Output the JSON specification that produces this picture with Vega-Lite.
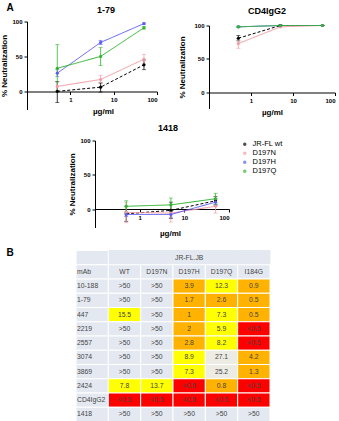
{
  "$schema": "https://vega.github.io/schema/vega-lite/v6.json",
  "padding": {"left": 0, "top": 2.5, "right": 0, "bottom": 0},
  "background": "white",
  "title": {"text": "A", "anchor": "start", "frame": "group", "fontSize": 10, "dx": 3.5, "offset": 0, "dy": 7},
  "datasets": {
    "curves": [
      {"panel": "1-79", "series": "JR-FL wt", "conc": 0.5, "mean": 0, "lo": -16, "hi": 14},
      {"panel": "1-79", "series": "JR-FL wt", "conc": 5, "mean": 6, "lo": -1, "hi": 12},
      {"panel": "1-79", "series": "JR-FL wt", "conc": 50, "mean": 38, "lo": 31, "hi": 45},
      {"panel": "1-79", "series": "D197N", "conc": 0.5, "mean": 7, "lo": 1, "hi": 13},
      {"panel": "1-79", "series": "D197N", "conc": 5, "mean": 17, "lo": 12, "hi": 23},
      {"panel": "1-79", "series": "D197N", "conc": 50, "mean": 46, "lo": 39, "hi": 53},
      {"panel": "1-79", "series": "D197H", "conc": 0.5, "mean": 26, "lo": 21, "hi": 31},
      {"panel": "1-79", "series": "D197H", "conc": 5, "mean": 70, "lo": 67, "hi": 73},
      {"panel": "1-79", "series": "D197H", "conc": 50, "mean": 97, "lo": 96, "hi": 98},
      {"panel": "1-79", "series": "D197Q", "conc": 0.5, "mean": 33, "lo": -1, "hi": 67},
      {"panel": "1-79", "series": "D197Q", "conc": 5, "mean": 50, "lo": 37, "hi": 63},
      {"panel": "1-79", "series": "D197Q", "conc": 50, "mean": 91, "lo": 89, "hi": 93},
      {"panel": "CD4IgG2", "series": "JR-FL wt", "conc": 0.5, "mean": 81, "lo": 77, "hi": 85},
      {"panel": "CD4IgG2", "series": "JR-FL wt", "conc": 5, "mean": 100, "lo": 99, "hi": 101},
      {"panel": "CD4IgG2", "series": "JR-FL wt", "conc": 50, "mean": 100, "lo": 100, "hi": 100},
      {"panel": "CD4IgG2", "series": "D197N", "conc": 0.5, "mean": 73, "lo": 66, "hi": 80},
      {"panel": "CD4IgG2", "series": "D197N", "conc": 5, "mean": 98, "lo": 97, "hi": 99},
      {"panel": "CD4IgG2", "series": "D197N", "conc": 50, "mean": 100, "lo": 100, "hi": 100},
      {"panel": "CD4IgG2", "series": "D197H", "conc": 0.5, "mean": 98, "lo": 97, "hi": 99},
      {"panel": "CD4IgG2", "series": "D197H", "conc": 5, "mean": 100, "lo": 100, "hi": 100},
      {"panel": "CD4IgG2", "series": "D197H", "conc": 50, "mean": 100, "lo": 100, "hi": 100},
      {"panel": "CD4IgG2", "series": "D197Q", "conc": 0.5, "mean": 98, "lo": 97, "hi": 99},
      {"panel": "CD4IgG2", "series": "D197Q", "conc": 5, "mean": 100, "lo": 100, "hi": 100},
      {"panel": "CD4IgG2", "series": "D197Q", "conc": 50, "mean": 100, "lo": 100, "hi": 100},
      {"panel": "1418", "series": "JR-FL wt", "conc": 0.5, "mean": -7, "lo": -18, "hi": 4},
      {"panel": "1418", "series": "JR-FL wt", "conc": 5, "mean": -2, "lo": -14, "hi": 10},
      {"panel": "1418", "series": "JR-FL wt", "conc": 50, "mean": 12, "lo": 6, "hi": 18},
      {"panel": "1418", "series": "D197N", "conc": 0.5, "mean": -5, "lo": -20, "hi": 10},
      {"panel": "1418", "series": "D197N", "conc": 5, "mean": -6, "lo": -19, "hi": 7},
      {"panel": "1418", "series": "D197N", "conc": 50, "mean": 4, "lo": -6, "hi": 14},
      {"panel": "1418", "series": "D197H", "conc": 0.5, "mean": -8, "lo": -11, "hi": -5},
      {"panel": "1418", "series": "D197H", "conc": 5, "mean": -8, "lo": -12, "hi": -4},
      {"panel": "1418", "series": "D197H", "conc": 50, "mean": 10, "lo": 5, "hi": 15},
      {"panel": "1418", "series": "D197Q", "conc": 0.5, "mean": 4, "lo": -4, "hi": 12},
      {"panel": "1418", "series": "D197Q", "conc": 5, "mean": 6, "lo": -4, "hi": 16},
      {"panel": "1418", "series": "D197Q", "conc": 50, "mean": 15, "lo": 7, "hi": 23}
    ],
    "table": [
      {"row": "h1", "col": "mAb", "text": "", "level": "header"},
      {"row": "h1", "col": "WT", "text": "", "level": "span"},
      {"row": "h1", "col": "D197N", "text": "", "level": "span"},
      {"row": "h1", "col": "D197H", "text": "JR-FL.JB", "level": "span"},
      {"row": "h1", "col": "D197Q", "text": "", "level": "span"},
      {"row": "h1", "col": "I184G", "text": "", "level": "span"},
      {"row": "h2", "col": "mAb", "text": "mAb", "level": "header"},
      {"row": "h2", "col": "WT", "text": "WT", "level": "header"},
      {"row": "h2", "col": "D197N", "text": "D197N", "level": "header"},
      {"row": "h2", "col": "D197H", "text": "D197H", "level": "header"},
      {"row": "h2", "col": "D197Q", "text": "D197Q", "level": "header"},
      {"row": "h2", "col": "I184G", "text": "I184G", "level": "header"},
      {"row": "10-188", "col": "mAb", "text": "10-188", "level": "header"},
      {"row": "10-188", "col": "WT", "text": ">50", "level": ">50"},
      {"row": "10-188", "col": "D197N", "text": ">50", "level": ">50"},
      {"row": "10-188", "col": "D197H", "text": "3.9", "level": "0.5-5"},
      {"row": "10-188", "col": "D197Q", "text": "12.3", "level": "5-20"},
      {"row": "10-188", "col": "I184G", "text": "0.9", "level": "0.5-5"},
      {"row": "1-79", "col": "mAb", "text": "1-79", "level": "header"},
      {"row": "1-79", "col": "WT", "text": ">50", "level": ">50"},
      {"row": "1-79", "col": "D197N", "text": ">50", "level": ">50"},
      {"row": "1-79", "col": "D197H", "text": "1.7", "level": "0.5-5"},
      {"row": "1-79", "col": "D197Q", "text": "2.6", "level": "0.5-5"},
      {"row": "1-79", "col": "I184G", "text": "0.5", "level": "0.5-5"},
      {"row": "447", "col": "mAb", "text": "447", "level": "header"},
      {"row": "447", "col": "WT", "text": "15.5", "level": "5-20"},
      {"row": "447", "col": "D197N", "text": ">50", "level": ">50"},
      {"row": "447", "col": "D197H", "text": "1", "level": "0.5-5"},
      {"row": "447", "col": "D197Q", "text": "7.3", "level": "5-20"},
      {"row": "447", "col": "I184G", "text": "0.5", "level": "0.5-5"},
      {"row": "2219", "col": "mAb", "text": "2219", "level": "header"},
      {"row": "2219", "col": "WT", "text": ">50", "level": ">50"},
      {"row": "2219", "col": "D197N", "text": ">50", "level": ">50"},
      {"row": "2219", "col": "D197H", "text": "2", "level": "0.5-5"},
      {"row": "2219", "col": "D197Q", "text": "5.9", "level": "5-20"},
      {"row": "2219", "col": "I184G", "text": "<0.5", "level": "<0.5"},
      {"row": "2557", "col": "mAb", "text": "2557", "level": "header"},
      {"row": "2557", "col": "WT", "text": ">50", "level": ">50"},
      {"row": "2557", "col": "D197N", "text": ">50", "level": ">50"},
      {"row": "2557", "col": "D197H", "text": "2.8", "level": "0.5-5"},
      {"row": "2557", "col": "D197Q", "text": "8.2", "level": "5-20"},
      {"row": "2557", "col": "I184G", "text": "<0.5", "level": "<0.5"},
      {"row": "3074", "col": "mAb", "text": "3074", "level": "header"},
      {"row": "3074", "col": "WT", "text": ">50", "level": ">50"},
      {"row": "3074", "col": "D197N", "text": ">50", "level": ">50"},
      {"row": "3074", "col": "D197H", "text": "8.9", "level": "5-20"},
      {"row": "3074", "col": "D197Q", "text": "27.1", "level": "20-50"},
      {"row": "3074", "col": "I184G", "text": "4.2", "level": "0.5-5"},
      {"row": "3869", "col": "mAb", "text": "3869", "level": "header"},
      {"row": "3869", "col": "WT", "text": ">50", "level": ">50"},
      {"row": "3869", "col": "D197N", "text": ">50", "level": ">50"},
      {"row": "3869", "col": "D197H", "text": "7.3", "level": "5-20"},
      {"row": "3869", "col": "D197Q", "text": "25.2", "level": "20-50"},
      {"row": "3869", "col": "I184G", "text": "1.3", "level": "0.5-5"},
      {"row": "2424", "col": "mAb", "text": "2424", "level": "header"},
      {"row": "2424", "col": "WT", "text": "7.8", "level": "5-20"},
      {"row": "2424", "col": "D197N", "text": "13.7", "level": "5-20"},
      {"row": "2424", "col": "D197H", "text": "<0.5", "level": "<0.5"},
      {"row": "2424", "col": "D197Q", "text": "0.8", "level": "0.5-5"},
      {"row": "2424", "col": "I184G", "text": "<0.5", "level": "<0.5"},
      {"row": "CD4IgG2", "col": "mAb", "text": "CD4IgG2", "level": "header"},
      {"row": "CD4IgG2", "col": "WT", "text": "<0.5", "level": "<0.5"},
      {"row": "CD4IgG2", "col": "D197N", "text": "<0.5", "level": "<0.5"},
      {"row": "CD4IgG2", "col": "D197H", "text": "<0.5", "level": "<0.5"},
      {"row": "CD4IgG2", "col": "D197Q", "text": "<0.5", "level": "<0.5"},
      {"row": "CD4IgG2", "col": "I184G", "text": "<0.5", "level": "<0.5"},
      {"row": "1418", "col": "mAb", "text": "1418", "level": "header"},
      {"row": "1418", "col": "WT", "text": ">50", "level": ">50"},
      {"row": "1418", "col": "D197N", "text": ">50", "level": ">50"},
      {"row": "1418", "col": "D197H", "text": ">50", "level": ">50"},
      {"row": "1418", "col": "D197Q", "text": ">50", "level": ">50"},
      {"row": "1418", "col": "I184G", "text": ">50", "level": ">50"}
    ]
  },
  "columns": 2,
  "bounds": "flush",
  "spacing": {"row": 23, "column": 0},
  "resolve": {"scale": {"color": "independent", "strokeDash": "independent"}, "legend": {"color": "independent"}},
  "concat": [
    {
      "width": 206, "height": 96,
      "data": {"name": "curves"},
      "transform": [{"filter": "datum.panel == '1-79'"}],
      "title": {"text": "1-79", "offset": 4},
      "encoding": {
        "x": {"field": "conc", "type": "quantitative", "scale": {"type": "log", "domain": [0.1, 100], "range": [24, 154], "nice": false},
              "axis": {"values": [1, 10, 100], "format": "d", "offset": -26, "title": "µg/ml", "titleX": 100, "titlePadding": 5}},
        "color": {"field": "series", "type": "nominal", "scale": {"domain": ["JR-FL wt", "D197N", "D197H", "D197Q"], "range": ["#000000", "#f29aa3", "#5d5df2", "#2fb52f"]}, "legend": null}
      },
      "layer": [
        {"mark": {"type": "errorbar", "ticks": true, "thickness": 0.8},
         "encoding": {"y": {"field": "lo", "type": "quantitative", "title": "% Neutralization", "scale": {"domain": [-26, 100], "range": [88, 0], "nice": false, "zero": false}, "axis": {"values": [0, 50, 100], "offset": -24}},
                      "y2": {"field": "hi"}}},
        {"mark": {"type": "line", "strokeWidth": 1},
         "encoding": {"y": {"field": "mean", "type": "quantitative", "title": "% Neutralization"},
                      "strokeDash": {"field": "series", "type": "nominal", "scale": {"domain": ["JR-FL wt", "D197N", "D197H", "D197Q"], "range": [[3, 2], [1, 0], [1, 0], [1, 0]]}, "legend": null}}},
        {"mark": {"type": "point", "filled": true, "size": 10, "opacity": 1},
         "encoding": {"y": {"field": "mean", "type": "quantitative", "title": "% Neutralization"}}}
      ]
    },
    {
      "width": 126, "height": 96,
      "data": {"name": "curves"},
      "transform": [{"filter": "datum.panel == 'CD4IgG2'"}],
      "title": {"text": "CD4IgG2", "dx": -5, "offset": 6},
      "encoding": {
        "x": {"field": "conc", "type": "quantitative", "scale": {"type": "log", "domain": [0.1, 100], "nice": false},
              "axis": {"values": [1, 10, 100], "format": "d", "offset": -25, "title": "µg/ml", "titlePadding": 5}},
        "color": {"field": "series", "type": "nominal", "scale": {"domain": ["JR-FL wt", "D197N", "D197H", "D197Q"], "range": ["#000000", "#f29aa3", "#5d5df2", "#2fb52f"]}, "legend": null}
      },
      "layer": [
        {"mark": {"type": "errorbar", "ticks": true, "thickness": 0.8},
         "encoding": {"y": {"field": "lo", "type": "quantitative", "title": "% Neutralization", "scale": {"domain": [-24, 100], "range": [87, 4], "nice": false, "zero": false}, "axis": {"values": [0, 50, 100], "titlePadding": 7}},
                      "y2": {"field": "hi"}}},
        {"mark": {"type": "line", "strokeWidth": 1},
         "encoding": {"y": {"field": "mean", "type": "quantitative", "title": "% Neutralization"},
                      "strokeDash": {"field": "series", "type": "nominal", "scale": {"domain": ["JR-FL wt", "D197N", "D197H", "D197Q"], "range": [[3, 2], [1, 0], [1, 0], [1, 0]]}, "legend": null}}},
        {"mark": {"type": "point", "filled": true, "size": 10, "opacity": 1},
         "encoding": {"y": {"field": "mean", "type": "quantitative", "title": "% Neutralization"}}}
      ]
    },
    {
      "width": 206, "height": 87,
      "data": {"name": "curves"},
      "transform": [{"filter": "datum.panel == '1418'"}],
      "title": {"text": "1418", "dx": 62, "offset": 5},
      "encoding": {
        "x": {"field": "conc", "type": "quantitative", "scale": {"type": "log", "domain": [0.1, 100], "range": [92, 226], "nice": false},
              "axis": {"values": [1, 10, 100], "format": "d", "offset": -18.5, "title": "µg/ml", "titleX": 167, "titlePadding": 9}},
        "color": {"field": "series", "type": "nominal", "scale": {"domain": ["JR-FL wt", "D197N", "D197H", "D197Q"], "range": ["#000000", "#f29aa3", "#5d5df2", "#2fb52f"]},
                  "legend": {"orient": "right", "offset": 23, "padding": 0, "title": null, "labelFontSize": 7.5, "labelFont": "Liberation Sans", "labelColor": "#000", "symbolSize": 12, "symbolType": "circle", "symbolDash": [], "symbolStrokeWidth": 0, "rowPadding": 0, "labelOffset": 4}}
      },
      "layer": [
        {"mark": {"type": "errorbar", "ticks": true, "thickness": 0.8},
         "encoding": {"y": {"field": "lo", "type": "quantitative", "title": "% Neutralization", "scale": {"domain": [-27, 100], "nice": false, "zero": false}, "axis": {"values": [0, 50, 100], "offset": -92}},
                      "y2": {"field": "hi"}}},
        {"mark": {"type": "line", "strokeWidth": 1},
         "encoding": {"y": {"field": "mean", "type": "quantitative", "title": "% Neutralization"},
                      "strokeDash": {"field": "series", "type": "nominal", "scale": {"domain": ["JR-FL wt", "D197N", "D197H", "D197Q"], "range": [[3, 2], [1, 0], [1, 0], [1, 0]]}, "legend": null}}},
        {"mark": {"type": "point", "filled": true, "size": 10, "opacity": 1},
         "encoding": {"y": {"field": "mean", "type": "quantitative", "title": "% Neutralization"}}}
      ]
    },
    {"width": 1, "height": 1, "data": {"values": []}, "mark": "point"},
    {
      "width": 206, "height": 171,
      "data": {"name": "table"},
      "title": {"text": "B", "anchor": "start", "frame": "group", "fontSize": 10, "dx": 3.5, "offset": 0, "dy": 8},
      "encoding": {
        "x": {"field": "col", "type": "ordinal", "scale": {"domain": ["mAb", "WT", "D197N", "D197H", "D197Q", "I184G"], "range": [73, 267], "paddingInner": 0, "paddingOuter": 0}, "axis": null},
        "y": {"field": "row", "type": "ordinal", "scale": {"domain": ["h1", "h2", "10-188", "1-79", "447", "2219", "2557", "3074", "3869", "2424", "CD4IgG2", "1418"], "paddingInner": 0, "paddingOuter": 0}, "axis": null},
        "color": {"field": "level", "type": "nominal", "scale": {"domain": ["span", "header", ">50", "<0.5", "0.5-5", "5-20", "20-50"], "range": ["#e4e9f1", "#e4e9f1", "#e4e9f1", "#ff0000", "#ffb300", "#ffff00", "#ecebe4"]}, "legend": null}
      },
      "layer": [
        {"transform": [{"filter": "datum.level == 'span'"}],
         "mark": {"type": "rect", "stroke": "#e4e9f1", "strokeWidth": 1}},
        {"transform": [{"filter": "datum.level != 'span'"}],
         "mark": {"type": "rect", "stroke": "white", "strokeWidth": 1}},
        {"transform": [{"filter": "datum.col != 'mAb'"}],
         "mark": {"type": "text", "fontSize": 6.8, "color": "#444", "font": "Liberation Sans"},
         "encoding": {"text": {"field": "text"}, "color": {"value": "#444"}}},
        {"transform": [{"filter": "datum.col == 'mAb'"}],
         "mark": {"type": "text", "fontSize": 6.8, "color": "#444", "align": "left", "dx": 1, "font": "Liberation Sans"},
         "encoding": {"x": {"field": "col", "type": "ordinal", "bandPosition": 0}, "text": {"field": "text"}, "color": {"value": "#444"}}}
      ]
    },
    {"width": 1, "height": 1, "data": {"values": []}, "mark": "point"}
  ],
  "config": {
    "font": "Liberation Sans",
    "view": {"stroke": null},
    "title": {"fontSize": 9, "fontWeight": "bold", "color": "#000", "baseline": "alphabetic", "font": "Liberation Sans", "frame": "group"},
    "axis": {"labelFont": "Liberation Sans", "labelFontSize": 6, "labelFontWeight": "bold", "labelColor": "#000",
             "titleFont": "Liberation Sans", "titleFontSize": 8, "titleFontWeight": "bold", "titleColor": "#000",
             "domainColor": "#000", "domainWidth": 1, "tickColor": "#000", "tickWidth": 1, "tickSize": 3, "grid": false, "labelPadding": 2, "titlePadding": 3},
    "axisX": {"labelPadding": 2},
    "errorbar": {"ticks": {"size": 4}}
  }
}
